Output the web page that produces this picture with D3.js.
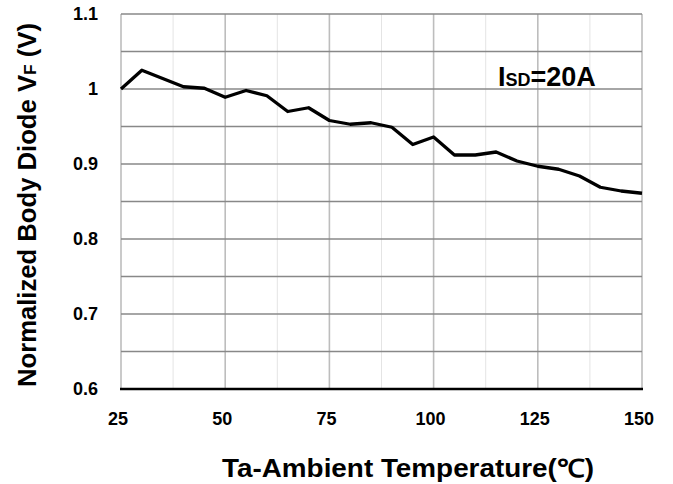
<!DOCTYPE html>
<html>
<head>
<meta charset="utf-8">
<script src="https://cdn.jsdelivr.net/npm/d3@7"></script>
<style>
  body { margin: 0; background: #fff; }
  text { font-family: "Liberation Sans", Arial, sans-serif; font-weight: bold; fill: #000; }
</style>
</head>
<body>
<script>
// data
const temps = [25, 30, 35, 40, 45, 50, 55, 60, 65, 70, 75, 80, 85, 90, 95, 100, 105, 110, 115, 120, 125, 130, 135, 140, 145, 150];
const vf = [1.000, 1.025, 1.014, 1.003, 1.001, 0.989, 0.998, 0.991, 0.970, 0.975, 0.958, 0.953, 0.955, 0.949, 0.926, 0.936, 0.912, 0.912, 0.916, 0.904, 0.897, 0.893, 0.884, 0.869, 0.864, 0.861];

const xTicks = [25, 50, 75, 100, 125, 150];
const xMinor = [37.5, 62.5, 87.5, 112.5, 137.5];
const yTicks = [0.6, 0.7, 0.8, 0.9, 1, 1.1];
const yGrid = [0.65, 0.7, 0.75, 0.8, 0.85, 0.9, 0.95, 1, 1.05, 1.1];

const W = 673, H = 484;
const margin = {top: 14, right: 31, bottom: 95, left: 121};

const svg = d3.select("body").append("svg").attr("width", W).attr("height", H);

const x = d3.scaleLinear().domain([25, 150]).range([margin.left, W - margin.right]);
const y = d3.scaleLinear().domain([0.6, 1.1]).range([H - margin.bottom, margin.top]);

// grid
svg.append("g").selectAll("line").data(xMinor).enter().append("line")
  .attr("x1", d => x(d)).attr("x2", d => x(d))
  .attr("y1", y(1.1)).attr("y2", y(0.6))
  .attr("stroke", "#e4e4e4").attr("stroke-width", 1);

svg.append("g").selectAll("line").data(xTicks).enter().append("line")
  .attr("x1", d => x(d)).attr("x2", d => x(d))
  .attr("y1", y(1.1)).attr("y2", y(0.6))
  .attr("stroke", "#bdbdbd").attr("stroke-width", 1.6);

svg.append("g").selectAll("line").data(yGrid).enter().append("line")
  .attr("x1", x(25)).attr("x2", x(150))
  .attr("y1", d => y(d)).attr("y2", d => y(d))
  .attr("stroke", "#888").attr("stroke-width", 1.4);

// x axis (thick black baseline)
svg.append("line")
  .attr("x1", x(25) - 1).attr("x2", x(150) + 1)
  .attr("y1", y(0.6)).attr("y2", y(0.6))
  .attr("stroke", "#000").attr("stroke-width", 2.5);

// tick labels
svg.append("g").selectAll("text").data(xTicks).enter().append("text")
  .attr("x", d => x(d) - 3).attr("y", 425)
  .attr("text-anchor", "middle").style("font-size", "18px")
  .text(d => d);

svg.append("g").selectAll("text").data(yTicks).enter().append("text")
  .attr("x", 98).attr("y", d => y(d) + 6)
  .attr("text-anchor", "end").style("font-size", "18px")
  .text(d => d3.format("~g")(d));

// the curve
const line = d3.line().x((d, i) => x(temps[i])).y(d => y(d));
svg.append("path").datum(vf)
  .attr("d", line)
  .attr("fill", "none").attr("stroke", "#000")
  .attr("stroke-width", 3.3).attr("stroke-linejoin", "round");

// axis titles
svg.append("text")
  .attr("x", 408).attr("y", 477)
  .attr("text-anchor", "middle").style("font-size", "25px")
  .attr("textLength", 372).attr("lengthAdjust", "spacingAndGlyphs")
  .text("Ta-Ambient Temperature(℃)");

const yt = svg.append("text")
  .attr("transform", "translate(36," + 205 + ") rotate(-90)")
  .attr("text-anchor", "middle").style("font-size", "25px")
  .attr("textLength", 364).attr("lengthAdjust", "spacingAndGlyphs");
yt.append("tspan").text("Normalized Body Diode V");
yt.append("tspan").style("font-size", "17px").text("F");
yt.append("tspan").text(" (V)");

// annotation
const ann = svg.append("text").attr("x", 498).attr("y", 86).style("font-size", "27px");
ann.append("tspan").text("I");
ann.append("tspan").style("font-size", "18px").text("SD");
ann.append("tspan").text("=20A");
</script>
</body>
</html>
